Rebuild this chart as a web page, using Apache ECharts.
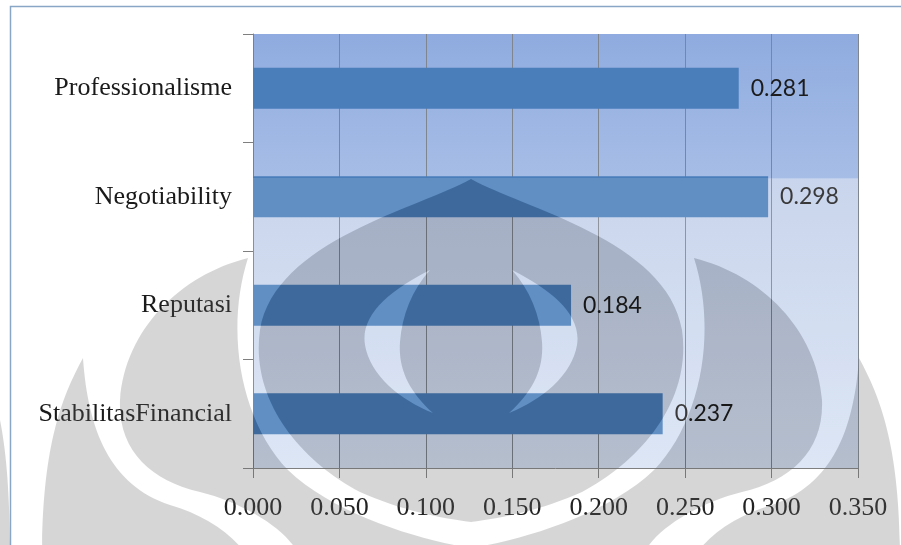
<!DOCTYPE html>
<html>
<head>
<meta charset="utf-8">
<script src="https://cdn.jsdelivr.net/npm/echarts@6/dist/echarts.min.js"></script>
<style>
  html, body { margin: 0; padding: 0; background: #fff; }
  #chart { width: 901px; height: 545px; }
</style>
</head>
<body>
<div id="chart"></div>
<script>
// kriteria, dari atas ke bawah
const categories = ['Professionalisme', 'Negotiability', 'Reputasi', 'StabilitasFinancial']
const weights = [0.281, 0.298, 0.184, 0.237]
const axisMin = 0
const axisMax = 0.35
const axisStep = 0.05

const chart = echarts.init(document.getElementById('chart'), null, { renderer: 'canvas' })

// ── watermark (logo) — dekorasi, bukan data ────────────────────
const MID_X = 471
const leaf = 'M248,258 C180,275 125,330 120,400 C118,450 150,480 200,492 C240,502 280,525 295,548 L471,548 C420,540 335,515 288,470 C240,420 225,330 248,258 Z'
const spike = 'M83,358 C60,400 42,450 42,560 L250,560 C235,535 205,515 170,505 C110,485 88,430 83,358 Z'
const edge = 'M0,420 C6,450 10,490 10,560 L0,560 Z'
const crescent = 'M430,270 C390,290 360,315 365,345 C370,375 400,400 433,413 C410,392 398,370 400,342 C402,315 412,290 430,270 Z'
const dome = 'M471,179 C420,208 275,240 260,330 C250,400 300,460 360,492 C400,510 440,518 471,522 ' +
             'C502,518 542,510 582,492 C642,460 692,400 682,330 C667,240 522,208 471,179 Z'

function parsePath(str) {
  const tok = str.match(/[MCLZ]|-?\d+(\.\d+)?/g)
  let i = 0, cmd = null, start = null, cur = null
  const segs = []
  const num = () => +tok[i++]
  while (i < tok.length) {
    if (/[MCLZ]/.test(tok[i])) cmd = tok[i++]
    if (cmd === 'M') { start = [num(), num()]; cur = start }
    else if (cmd === 'C') { const p = [[num(), num()], [num(), num()], [num(), num()]]; segs.push({ t: 'C', p, from: cur }); cur = p[2] }
    else if (cmd === 'L') { const p = [[num(), num()]]; segs.push({ t: 'L', p, from: cur }); cur = p[0] }
    else if (cmd === 'Z') { if (cur[0] !== start[0] || cur[1] !== start[1]) segs.push({ t: 'L', p: [start], from: cur }); cur = start }
  }
  return { start, segs }
}
function mirrorPath(s) {
  const m = q => [2 * MID_X - q[0], q[1]]
  return { start: m(s.start), segs: s.segs.map(g => ({ t: g.t, p: g.p.map(m), from: m(g.from) })) }
}
function reversePath(s) {
  const segs = s.segs.slice().reverse().map(g => g.t === 'C'
    ? { t: 'C', p: [g.p[1], g.p[0], g.from], from: g.p[2] }
    : { t: 'L', p: [g.from], from: g.p[0] })
  return { start: s.segs[s.segs.length - 1].p.slice(-1)[0], segs }
}
function isClockwise(s) {
  const pts = [s.start]
  s.segs.forEach(g => g.p.forEach(q => pts.push(q)))
  let a = 0
  for (let k = 0; k < pts.length; k++) {
    const p = pts[k], q = pts[(k + 1) % pts.length]
    a += p[0] * q[1] - q[0] * p[1]
  }
  return a > 0
}
function toStr(s, cw) {
  const o = isClockwise(s) === cw ? s : reversePath(s)
  return 'M' + o.start.join(',') + ' ' + o.segs.map(g => g.t + g.p.map(q => q.join(',')).join(' ')).join(' ') + ' Z'
}

const grayParts = [parsePath(dome)]
const lightParts = []
;[leaf, spike, edge].forEach(str => { const s = parsePath(str); grayParts.push(s, mirrorPath(s)) })
{ const s = parsePath(crescent); lightParts.push(s, mirrorPath(s)) }

// abu-abu: bentuk logo dengan lubang bulan sabit
const grayPath = grayParts.map(s => toStr(s, true)).join(' ') + ' ' + lightParts.map(s => toStr(s, false)).join(' ')
// putih tipis: area plot bawah kecuali bagian abu-abu
const rectPath = 'M253,178 L858,178 L858,468 L253,468 Z'
const lightPath = rectPath + ' ' + grayParts.map(s => toStr(s, false)).join(' ') + ' ' + lightParts.map(s => toStr(s, true)).join(' ')

const option = {
  backgroundColor: '#ffffff',
  animation: false,
  grid: {
    left: 253, right: 43, top: 34, bottom: 77,
    show: true, borderWidth: 0,
    backgroundColor: new echarts.graphic.LinearGradient(0, 0, 0, 1, [
      { offset: 0, color: '#8fabdf' },
      { offset: 0.332, color: '#a6bde6' },
      { offset: 0.334, color: '#c2cfea' },
      { offset: 1, color: '#d8e3f4' },
    ]),
  },
  xAxis: {
    type: 'value', min: axisMin, max: axisMax, interval: axisStep,
    axisLine: { show: true, lineStyle: { color: '#7f7f7f', width: 1 } },
    axisTick: { show: true, length: 10, lineStyle: { color: '#7f7f7f' } },
    axisLabel: {
      color: '#222', fontSize: 26, fontFamily: '"Liberation Serif", serif', margin: 27,
      formatter: v => v.toFixed(3),
    },
    splitLine: { show: true, lineStyle: { color: '#80868f', width: 1 } },
  },
  yAxis: {
    type: 'category', data: categories, inverse: true,
    axisLine: { show: true, lineStyle: { color: '#7f7f7f', width: 1 } },
    axisTick: { show: true, length: 10, inside: false, lineStyle: { color: '#7f7f7f' } },
    axisLabel: { color: '#1a1a1a', fontSize: 26, fontFamily: '"Liberation Serif", serif', margin: 21 },
    splitLine: { show: false },
  },
  series: [
    {
      type: 'bar', data: weights, barWidth: '38%',
      itemStyle: { color: '#4a7ebb' },
      label: {
        show: true, position: 'right', distance: 12,
        color: '#1c1c1c', fontSize: 23, fontFamily: 'Lato, sans-serif',
        formatter: p => p.value.toFixed(3),
      },
    },
    {
      // watermark di atas semuanya
      type: 'custom', coordinateSystem: 'none', data: [0], z: 20, silent: true,
      renderItem: () => ({
        type: 'group',
        children: [
          { type: 'path', shape: { pathData: lightPath }, style: { fill: 'rgba(255,255,255,0.13)' } },
          { type: 'path', shape: { pathData: grayPath }, style: { fill: 'rgba(0,0,0,0.16)' } },
        ],
      }),
    },
  ],
  graphic: [
    // bingkai chart
    { type: 'rect', shape: { x: 10.5, y: 6.5, width: 1200, height: 1200 }, style: { fill: 'none', stroke: '#8aa6c6', lineWidth: 1.5 }, z: 0, silent: true },
  ],
}
chart.setOption(option)
</script>
</body>
</html>
